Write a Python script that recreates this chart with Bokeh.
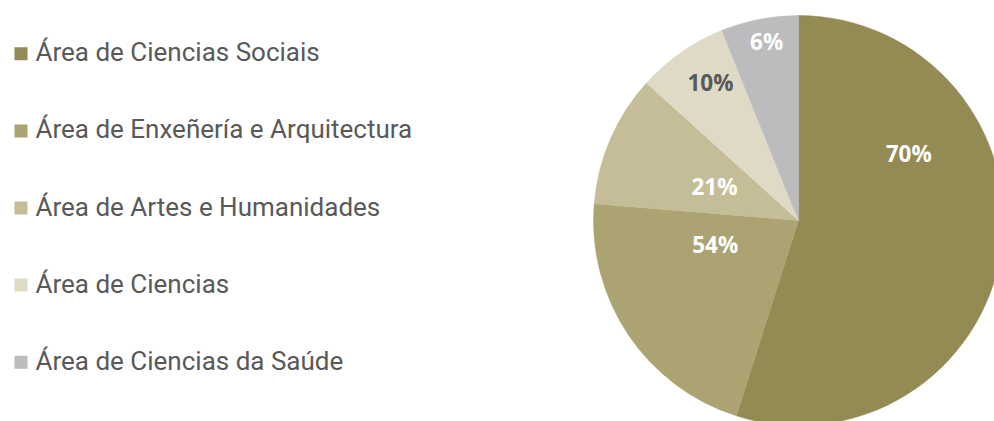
import math
from bokeh.plotting import figure
from bokeh.models import ColumnDataSource, Range1d
from bokeh.core.properties import value
from bokeh.embed import file_html
from bokeh.resources import INLINE

# ---- data ----
categories = [
    "Área de Ciencias Sociais",
    "Área de Enxeñería e Arquitectura",
    "Área de Artes e Humanidades",
    "Área de Ciencias",
    "Área de Ciencias da Saúde",
]
shares = [54.9, 21.4, 10.4, 7.2, 6.1]          # slice sizes as drawn
labels = ["70%", "54%", "21%", "10%", "6%"]    # texts printed on slices
colors = ["#948a54", "#aba371", "#c4bd97", "#dedac6", "#bcbcbe"]
label_colors = ["#ffffff", "#ffffff", "#ffffff", "#595959", "#ffffff"]

# ---- layout (pixels) ----
W, H = 994, 421
cx, cy, R = 798, H - 220, 205
label_angle_deg = [59.4, 253.2, 290.9, 327.1, 349.8]   # clockwise from top
label_radius = [128, 87, 90, 162, 180]

total = sum(shares)
starts, ends = [], []
acc = 0.0
for s in shares:
    a0 = acc / total * 2 * math.pi
    acc += s
    a1 = acc / total * 2 * math.pi
    starts.append(math.pi / 2 - a0)
    ends.append(math.pi / 2 - a1)

pie = ColumnDataSource(dict(start=starts, end=ends, color=colors))

lx = [cx + r * math.sin(math.radians(a)) for a, r in zip(label_angle_deg, label_radius)]
ly = [cy + r * math.cos(math.radians(a)) + 1.5 for a, r in zip(label_angle_deg, label_radius)]
lab = ColumnDataSource(dict(x=lx, y=ly, text=labels, color=label_colors))

row_y = [H - (51.8 + i * 77.1) for i in range(len(categories))]
square_y = [y - 1.5 for y in row_y]
leg = ColumnDataSource(dict(sx=[20.5 for _ in categories], tx=[35 for _ in categories],
                            ty=row_y, sy=square_y, text=categories, color=colors))

p = figure(width=W, height=H, output_backend="svg", toolbar_location=None,
           x_range=Range1d(0, W), y_range=Range1d(0, H),
           min_border=0, border_fill_color="white", outline_line_color=None)
p.axis.visible = False
p.grid.visible = False

p.wedge(x=cx, y=cy, radius=R, start_angle="start", end_angle="end",
        direction="clock", fill_color="color", line_color="color", line_width=0.5,
        source=pie)

p.text(x="x", y="y", text="text", text_color="color", source=lab,
       text_font=value("Open Sans"), text_font_style="bold", text_font_size="22.5px",
       text_align="center", text_baseline="middle")

p.scatter(x="sx", y="sy", marker="square", size=13, fill_color="color",
          line_color=None, source=leg)
p.text(x="tx", y="ty", text="text", source=leg, text_color="#595959",
       text_font=value("Roboto"), text_font_size="26px",
       text_align="left", text_baseline="middle")

open("out.html", "w").write(file_html(p, INLINE))
